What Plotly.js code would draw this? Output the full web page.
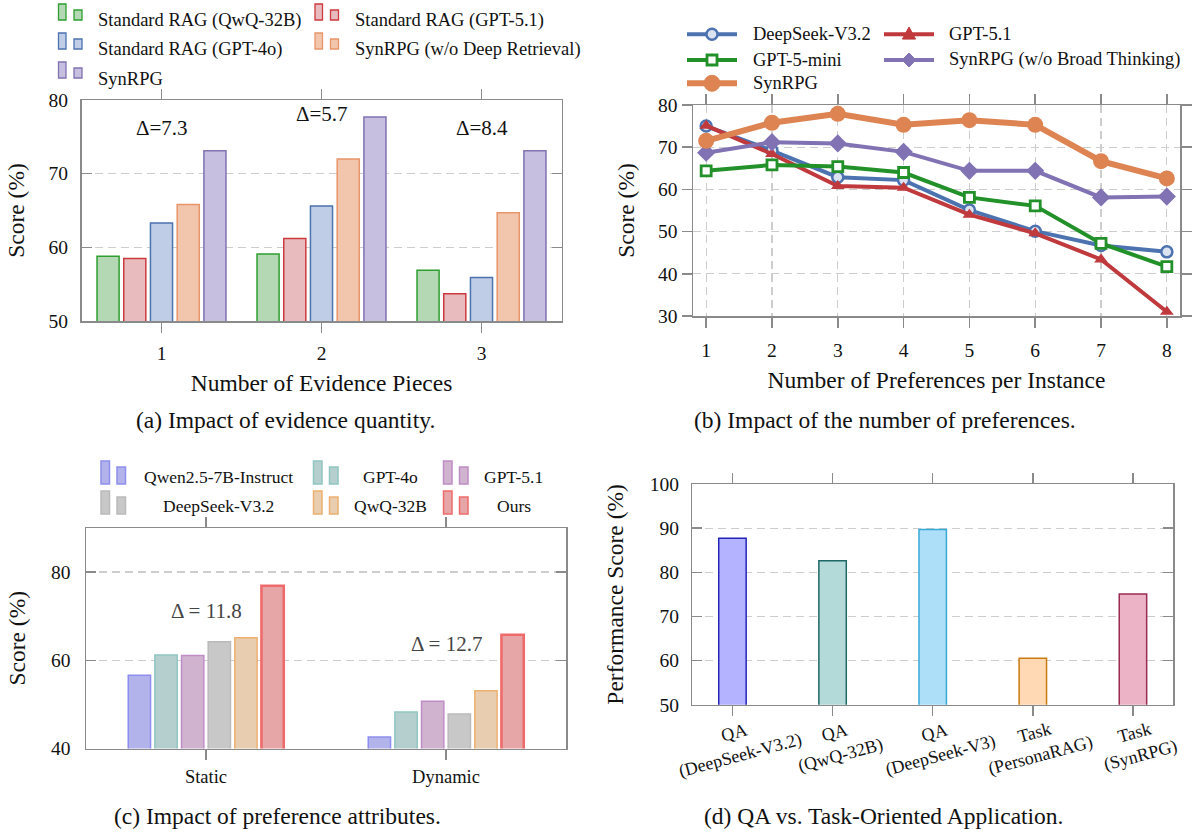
<!DOCTYPE html>
<html><head><meta charset="utf-8">
<script src="https://cdn.plot.ly/plotly-3.0.1.min.js"></script>
<style>html,body{margin:0;padding:0;background:#fff}</style>
</head><body><div id="chart" style="width:1193px;height:832px"></div>
<script>
// ---------------- data ----------------
// (a) Impact of evidence quantity
const evidenceCounts = [1, 2, 3];
const ragQwQ   = [58.8, 59.1, 56.9];
const ragGPT51 = [58.5, 61.2, 53.7];
const ragGPT4o = [63.3, 65.6, 55.9];
const synNoDeepRetrieval = [65.8, 72.0, 64.7];
const synRPG_a = [73.1, 77.7, 73.1];
const namesA = ['Standard RAG (QwQ-32B)', 'Standard RAG (GPT-5.1)', 'Standard RAG (GPT-4o)', 'SynRPG (w/o Deep Retrieval)', 'SynRPG'];

// (b) Impact of the number of preferences
const prefCounts = [1, 2, 3, 4, 5, 6, 7, 8];
const deepseekV32_b = [75.0, 69.2, 62.9, 62.2, 55.1, 50.1, 46.7, 45.2];
const gpt51_b       = [75.1, 68.4, 60.8, 60.4, 54.0, 49.6, 43.4, 31.0];
const gpt5mini_b    = [64.4, 65.8, 65.4, 64.0, 58.1, 56.1, 47.2, 41.7];
const synNoBroad_b  = [68.7, 71.2, 70.9, 68.9, 64.4, 64.4, 58.1, 58.3];
const synRPG_b      = [71.5, 75.8, 77.9, 75.3, 76.4, 75.3, 66.7, 62.6];
const namesB = ['DeepSeek-V3.2', 'GPT-5.1', 'GPT-5-mini', 'SynRPG (w/o Broad Thinking)', 'SynRPG'];

// (c) Impact of preference attributes
const attrCategories = ['Static', 'Dynamic'];
const qwen7b_c   = [56.6, 42.6];
const gpt4o_c    = [61.2, 48.3];
const gpt51_c    = [61.1, 50.7];
const deepseek_c = [64.2, 47.8];
const qwq_c      = [65.1, 53.1];
const ours_c     = [76.9, 65.8];
const namesC = ['Qwen2.5-7B-Instruct', 'GPT-4o', 'GPT-5.1', 'DeepSeek-V3.2', 'QwQ-32B', 'Ours'];

// (d) QA vs. Task-Oriented Application
const appLabels = ['QA<br>(DeepSeek-V3.2)', 'QA<br>(QwQ-32B)', 'QA<br>(DeepSeek-V3)', 'Task<br>(PersonaRAG)', 'Task<br>(SynRPG)'];
const appScores = [87.7, 82.6, 89.7, 60.5, 75.1];

// ---------------- helpers ----------------
const FONT = '"Liberation Serif", "Times New Roman", serif';
const W = 1193, H = 832;
const PX = p => p / W, PY = p => 1 - p / H;
const shapes = [], annotations = [], traces = [];
const AXC = '#8a8a8a';

function txt(text, x, y, xanchor, size, color, extra) {
  annotations.push(Object.assign({xref: 'paper', yref: 'paper', x: PX(x), y: PY(y), text: text,
    showarrow: false, xanchor: xanchor, yanchor: 'middle',
    font: {family: FONT, size: size, color: color || '#111'}}, extra || {}));
}
function rectPx(x0, y0, x1, y1, fill, line, lw) {
  shapes.push({type: 'rect', xref: 'paper', yref: 'paper', x0: PX(x0), x1: PX(x1), y0: PY(y1), y1: PY(y0),
    fillcolor: fill, line: {color: line, width: lw}, layer: 'above'});
}
function pathPx(pts, fill) {
  const d = pts.map((p, i) => (i ? 'L' : 'M') + PX(p[0]) + ',' + PY(p[1])).join(' ') + ' Z';
  shapes.push({type: 'path', xref: 'paper', yref: 'paper', path: d, fillcolor: fill, line: {color: fill, width: 1}, layer: 'above'});
}
function axis(extra) {
  return Object.assign({
    showline: true, linecolor: AXC, linewidth: 1.5, mirror: 'allticks',
    ticks: 'outside', ticklen: 10, tickwidth: 1.5, tickcolor: AXC,
    zeroline: false, showgrid: false, fixedrange: true,
    gridcolor: '#cdcdcd', griddash: '8px,5px', gridwidth: 1.2,
    tickfont: {family: FONT, size: 19.5, color: '#111'}
  }, extra);
}
function ttl(text, standoff) { return {text: text, standoff: standoff, font: {family: FONT, size: 23.5, color: '#111'}}; }

// ---------------- (a) ----------------
const seriesA = [ragQwQ, ragGPT51, ragGPT4o, synNoDeepRetrieval, synRPG_a];
const fillA = ['#b3d8b3', '#e8bcbe', '#bfcee6', '#f1c6ad', '#c7bfdf'];
const lineA = ['#2e9e2e', '#cc3a3f', '#4c72b0', '#e8956a', '#8172b3'];
const spA = 0.167, wA = 0.138;
seriesA.forEach((vals, i) => {
  traces.push({type: 'bar', x: evidenceCounts, y: vals, xaxis: 'x', yaxis: 'y', name: namesA[i], showlegend: false,
    width: wA, offset: (i - 2) * spA - wA / 2,
    marker: {color: fillA[i], line: {color: lineA[i], width: 1.5}}});
});
const deltaA = evidenceCounts.map((c, k) => (synRPG_a[k] - synNoDeepRetrieval[k]).toFixed(1));
const deltaAY = [76.2, 78.1, 76.2];
evidenceCounts.forEach((c, k) => annotations.push({xref: 'x', yref: 'y', x: c, y: deltaAY[k], text: 'Δ=' + deltaA[k],
  showarrow: false, font: {family: FONT, size: 21, color: '#111'}}));
// legend (a)
const colXA = [58.5, 315], txtXA = [96, 353], rowBA = [20, 49, 78], rowTA = [20.7, 49.3, 79];
namesA.forEach((n, i) => {
  const r = Math.floor(i / 2), c = i % 2, x = colXA[c], b = rowBA[r];
  rectPx(x, b - 16, x + 7.5, b, fillA[i], lineA[i], 1.3);
  rectPx(x + 15.5, b - 10, x + 23.5, b, fillA[i], lineA[i], 1.3);
  txt(n, txtXA[c], rowTA[r], 'left', 18.5);
});
txt('(a) Impact of evidence quantity.', 285, 420, 'center', 23.5);

// ---------------- (b) ----------------
const seriesB = [deepseekV32_b, gpt51_b, gpt5mini_b, synNoBroad_b, synRPG_b];
const colB = ['#4c72b0', '#c0393d', '#23912a', '#8172b3', '#dd8452'];
const mkB = [
  {symbol: 'circle', size: 11, color: '#dbe3f0', line: {color: '#4c72b0', width: 2.5}},
  {symbol: 'triangle-up', size: 12, color: '#c0393d', line: {width: 0}},
  {symbol: 'square', size: 10, color: '#ffffff', line: {color: '#23912a', width: 2.8}},
  {symbol: 'diamond', size: 14, color: '#8172b3', line: {width: 0}},
  {symbol: 'circle', size: 16, color: '#dd8452', line: {width: 0}}
];
const lwB = [4, 4, 4, 4, 6];
seriesB.forEach((vals, i) => {
  traces.push({type: 'scatter', mode: 'lines+markers', x: prefCounts, y: vals, xaxis: 'x2', yaxis: 'y2',
    name: namesB[i], showlegend: false, line: {color: colB[i], width: lwB[i]}, marker: mkB[i]});
});
// legend (b)
const colXB = [687, 884], txtXB = [751, 947], rowYB = [34.3, 60, 83.3];
namesB.forEach((n, i) => {
  const r = Math.floor(i / 2), c = i % 2, x = colXB[c], y = rowYB[r], cx = x + 25;
  shapes.push({type: 'line', xref: 'paper', yref: 'paper', x0: PX(x), x1: PX(x + 50), y0: PY(y), y1: PY(y),
    line: {color: colB[i], width: lwB[i]}, layer: 'above'});
  const m = mkB[i], s = m.size;
  if (m.symbol === 'circle') {
    shapes.push({type: 'circle', xref: 'paper', yref: 'paper', x0: PX(cx - s / 2), x1: PX(cx + s / 2), y0: PY(y + s / 2), y1: PY(y - s / 2),
      fillcolor: m.color, line: {color: m.line.width ? m.line.color : m.color, width: m.line.width || 1}, layer: 'above'});
  } else if (m.symbol === 'square') {
    rectPx(cx - s / 2, y - s / 2, cx + s / 2, y + s / 2, m.color, m.line.color, m.line.width);
  } else if (m.symbol === 'triangle-up') {
    pathPx([[cx, y - s * 0.6], [cx + s * 0.55, y + s * 0.4], [cx - s * 0.55, y + s * 0.4]], m.color);
  } else {
    pathPx([[cx, y - s / 2], [cx + s / 2, y], [cx, y + s / 2], [cx - s / 2, y]], m.color);
  }
  txt(n, txtXB[c], y, 'left', 18.5);
});
txt('(b) Impact of the number of preferences.', 885, 420, 'center', 23.5);

// ---------------- (c) ----------------
const seriesC = [qwen7b_c, gpt4o_c, gpt51_c, deepseek_c, qwq_c, ours_c];
const fillC = ['#b3b3eb', '#b5cfce', '#d0b4cf', '#c8c8c8', '#e9cdb0', '#e6a6a8'];
const lineC = ['#8e8ef0', '#90c6c2', '#c08cc6', '#bababa', '#eeb070', '#ef6b6b'];
const lwC = [1.5, 1.5, 1.5, 1.5, 1.5, 2.6];
const spC = 0.111, wC = 0.093;
seriesC.forEach((vals, i) => {
  traces.push({type: 'bar', x: attrCategories, y: vals, xaxis: 'x3', yaxis: 'y3', name: namesC[i], showlegend: false,
    width: wC, offset: (i - 2.5) * spC - wC / 2,
    marker: {color: fillC[i], line: {color: lineC[i], width: lwC[i]}}});
});
const deltaC = attrCategories.map((c, k) => (ours_c[k] - qwq_c[k]).toFixed(1));
const deltaCY = [71.2, 63.7];
attrCategories.forEach((c, k) => annotations.push({xref: 'x3', yref: 'y3', x: c, y: deltaCY[k], text: 'Δ = ' + deltaC[k],
  showarrow: false, font: {family: FONT, size: 21, color: '#444'}}));
// legend (c)
const colXC = [101, 313.5, 443.5], txtXC = [218.5, 390, 513.5], rowBC = [484, 514], rowTC = [476.7, 505.7];
namesC.forEach((n, i) => {
  const r = Math.floor(i / 3), c = i % 3, x = colXC[c], b = rowBC[r];
  rectPx(x, b - 23, x + 8.5, b, fillC[i], lineC[i], 1.5);
  rectPx(x + 16, b - 17, x + 24.5, b, fillC[i], lineC[i], 1.5);
  txt(n, txtXC[c], rowTC[r], 'center', 17.5);
});
txt('(c) Impact of preference attributes.', 277, 816, 'center', 23.5);

// ---------------- (d) ----------------
const fillD = ['#b3b3ff', '#b3d9d8', '#ade0f8', '#ffd9b3', '#ebb3c5'];
const lineD = ['#2424b8', '#1e6868', '#3aa8d6', '#c97a10', '#9a2c52'];
traces.push({type: 'bar', x: appLabels, y: appScores, xaxis: 'x4', yaxis: 'y4', showlegend: false, name: 'Performance',
  width: 0.274, marker: {color: fillD, line: {color: lineD, width: 1.5}}});
appLabels.forEach(l => annotations.push({xref: 'x4', yref: 'paper', x: l, y: PY(744), xshift: 5, text: l,
  textangle: -15, showarrow: false, align: 'center', xanchor: 'center', yanchor: 'middle',
  font: {family: FONT, size: 18, color: '#111'}}));
txt('(d) QA vs. Task-Oriented Application.', 883.5, 816, 'center', 23.5);

// ---------------- layout ----------------
const layout = {
  width: W, height: H, autosize: false, margin: {l: 0, r: 0, t: 0, b: 0},
  paper_bgcolor: '#fff', plot_bgcolor: '#fff', barmode: 'overlay', showlegend: false,
  font: {family: FONT, color: '#111'},
  xaxis: axis({domain: [PX(81.5), PX(561.5)], anchor: 'y', range: [0.5, 3.5], tickvals: evidenceCounts,
    ticklabelstandoff: 4, title: ttl('Number of Evidence Pieces', 11)}),
  yaxis: axis({domain: [PY(321), PY(100)], anchor: 'x', range: [50, 80], dtick: 10, ticks: 'inside',
    showgrid: true, ticklabelstandoff: 8, title: ttl('Score (%)', 17)}),
  xaxis2: axis({domain: [PX(693), PX(1180)], anchor: 'y2', range: [0.8, 8.2], dtick: 1, showgrid: true,
    ticklabelstandoff: 6, title: ttl('Number of Preferences per Instance', 11)}),
  yaxis2: axis({domain: [PY(316), PY(105)], anchor: 'x2', range: [30, 80], dtick: 10, showgrid: true,
    title: ttl('Score (%)', 17)}),
  xaxis3: axis({domain: [PX(86), PX(566)], anchor: 'y3', type: 'category', range: [-0.5, 1.5],
    tickfont: {family: FONT, size: 18.5, color: '#111'}, ticklabelstandoff: 1}),
  yaxis3: axis({domain: [PY(748.5), PY(528)], anchor: 'x3', range: [40, 90], tickvals: [40, 60, 80], ticks: 'inside',
    showgrid: true, ticklabelstandoff: 10, title: ttl('Score (%)', 19)}),
  xaxis4: axis({domain: [PX(692.4), PX(1173)], anchor: 'y4', type: 'category', range: [-0.4, 4.4], showticklabels: false}),
  yaxis4: axis({domain: [PY(704.7), PY(484)], anchor: 'x4', range: [50, 100], dtick: 10, ticks: 'inside',
    showgrid: true, ticklabelstandoff: 8, title: ttl('Performance Score (%)', 19)}),
  shapes: shapes, annotations: annotations
};
Plotly.newPlot('chart', traces, layout, {displayModeBar: false, staticPlot: true});
</script></body></html>
